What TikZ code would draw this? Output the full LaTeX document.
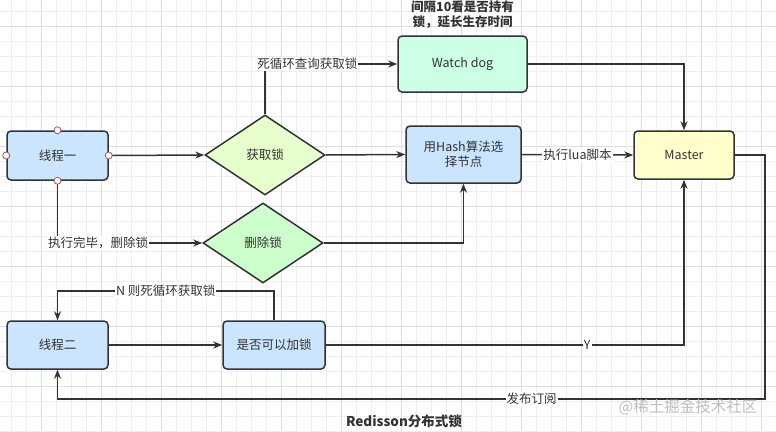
\documentclass[tikz,border=0pt]{standalone}
\usepackage{fontspec}
\setmainfont{Noto Sans CJK SC}
\usetikzlibrary{shapes.geometric,arrows.meta}
\definecolor{ink}{HTML}{333333}
\definecolor{bluef}{HTML}{CCE5FF}
\definecolor{limef}{HTML}{E6FFCC}
\definecolor{greenf}{HTML}{CCFFCC}
\definecolor{mintf}{HTML}{CCFFE6}
\definecolor{yellowf}{HTML}{FFFFCC}
\definecolor{gridminor}{HTML}{EEEEEE}
\definecolor{gridmajor}{HTML}{DEDEDE}
\definecolor{handle}{HTML}{B05050}
\tikzset{
  every node/.style={font=\fontsize{12.5}{15}\selectfont, text=ink},
  box/.style={draw=ink, line width=1.5pt, rounded corners=4pt, minimum width=101pt, minimum height=49pt, align=center, inner sep=2pt},
  dia/.style={draw=ink, line width=1.5pt, diamond, shape aspect=1.5, minimum width=120pt, minimum height=80pt, inner sep=0pt},
  arr/.style={draw=ink, line width=1.5pt, -{Stealth[length=9pt,width=7pt]}},
  ln/.style={draw=ink, line width=1.5pt},
  lbl/.style={fill=white, inner sep=1pt},
  hdl/.style={circle, draw=handle, fill=white, line width=0.8pt, minimum size=7pt, inner sep=0pt},
}
\begin{document}
\begin{tikzpicture}[x=1pt,y=-1pt]
\useasboundingbox (0,0) rectangle (776,431);
\fill[white] (0,0) rectangle (776,431);
% grid
\foreach \i in {0,...,51} {\draw[gridminor, line width=0.8pt] ({11.7+15*\i},0) -- ({11.7+15*\i},431);}
\foreach \i in {0,...,28} {\draw[gridminor, line width=0.8pt] (0,{11.7+15*\i}) -- (776,{11.7+15*\i});}
\foreach \i in {0,...,12} {\draw[gridmajor, line width=0.8pt] ({41.7+60*\i},0) -- ({41.7+60*\i},431);}
\foreach \i in {0,...,7} {\draw[gridmajor, line width=0.8pt] (0,{26.7+60*\i}) -- (776,{26.7+60*\i});}

% nodes
\node[box, fill=bluef] (t1) at (57.5,155.5) {线程一};
\node[dia, fill=limef] (get) at (265,155) {获取锁};
\node[dia, fill=greenf] (del) at (263,243) {删除锁};
\node[box, fill=mintf, minimum width=129pt, minimum height=56pt] (wd) at (462.5,64) {Watch dog};
\node[font=\bfseries\fontsize{12.5}{15}\selectfont, align=center] (wdnote) at (462.5,15) {间隔10看是否持有\\锁，延长生存时间};
\node[box, fill=bluef, minimum width=115pt, minimum height=57pt] (hash) at (463.5,154.5) {用Hash算法选\\择节点};
\node[box, fill=yellowf, minimum width=100pt, minimum height=48pt] (master) at (684,155) {Master};
\node[box, fill=bluef, minimum height=48pt] (t2) at (57.5,345) {线程二};
\node[box, fill=bluef, minimum width=102pt, minimum height=48pt] (can) at (274,345) {是否可以加锁};

% helper coordinates
\coordinate (n1) at (274,291);
\coordinate (n2) at (57.5,291);
\coordinate (p1) at (765,155);
\coordinate (p2) at (765,399);
\coordinate (p3) at (57.5,399);

% connectors
\draw[arr] (t1.east) -- (get.west);
\draw[arr] (get.north) |- node[lbl, pos=0.66] {死循环查询获取锁} (wd.west);
\draw[arr] (wd.east) -| (master.north);
\draw[arr] (get.east) -- (hash.west);
\draw[arr] (hash.east) -- node[lbl] {执行lua脚本} (master.west);
\draw[arr] (del.east) -| (hash.south);
\draw[arr] (t1.south) |- node[lbl, pos=0.64] {执行完毕，删除锁} (del.west);
\draw[arr] (t2.east) -- (can.west);
\draw[arr] (can.north) -- (n1) -- node[lbl] {N 则死循环获取锁} (n2) -- (t2.north);
\draw[arr] (can.east) -| node[lbl, pos=0.365] {Y} (master.south);
\draw[arr] (master.east) -- (p1) -- (p2) -- node[lbl, pos=0.33] {发布订阅} (p3) -- (t2.south);

% handles on 线程一
\node[hdl] (h1) at (t1.north) {};
\node[hdl] (h2) at (t1.south) {};
\node[hdl] (h3) at (t1.west) {};
\node[hdl] (h4) at (t1.east) {};

% title and watermark
\node[font=\bfseries\fontsize{13.5}{15}\selectfont] (title) at (404,421) {Redisson分布式锁};
\node[text=black!25, font=\fontsize{15.5}{17}\selectfont] (wm) at (688,407) {@稀土掘金技术社区};
\end{tikzpicture}
\end{document}
